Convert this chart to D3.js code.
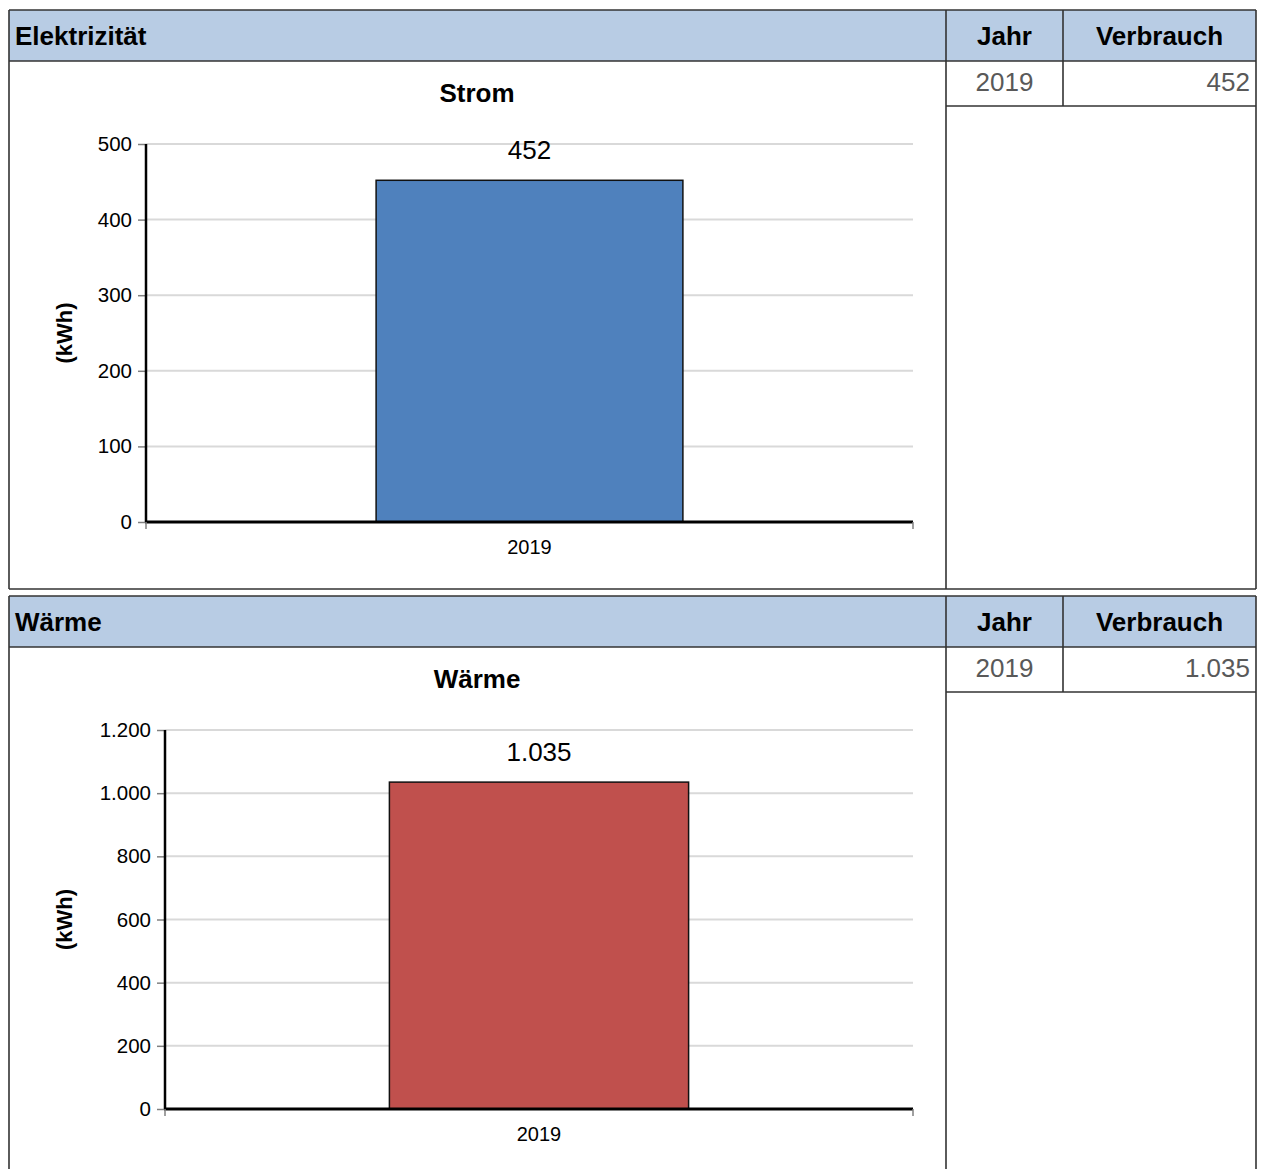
<!DOCTYPE html>
<html>
<head>
<meta charset="utf-8">
<script src="https://cdn.jsdelivr.net/npm/d3@7"></script>
<style>
  html, body { margin: 0; padding: 0; background: #fff; }
  svg { display: block; font-family: "Liberation Sans", Arial, sans-serif; }
</style>
</head>
<body>
<svg id="chart" width="1263" height="1169"></svg>
<script>
// Consumption per year, one small array per energy carrier
const years = ["2019"];
const stromValues = [452];
const waermeValues = [1035];

// Y-axis ticks of each chart
const stromTicks = [0, 100, 200, 300, 400, 500];
const waermeTicks = [0, 200, 400, 600, 800, 1000, 1200];

// Section headings, chart titles and table headings
const sectionTitles = ["Elektrizität", "Wärme"];
const chartTitles = ["Strom", "Wärme"];
const tableHeads = ["Jahr", "Verbrauch"];
const unitLabel = "(kWh)";

const de = d3.formatLocale({ decimal: ",", thousands: ".", grouping: [3], currency: ["", " €"] });
const fmt = de.format(",d");

const svg = d3.select("#chart");

const panels = [
  { top: 10, height: 579, section: sectionTitles[0], title: chartTitles[0], values: stromValues,
    ticks: stromTicks, color: "#4f81bd", plotLeft: 146, plotBottom: 512 },
  { top: 596, height: 600, section: sectionTitles[1], title: chartTitles[1], values: waermeValues,
    ticks: waermeTicks, color: "#c0504d", plotLeft: 165, plotBottom: 513 }
];

const X0 = 9, XSPLIT = 946, XCOL = 1063, X1 = 1256;
const HEAD_H = 51, ROW_H = 45;
const border = "#333";

panels.forEach(p => {
  const g = svg.append("g").attr("transform", `translate(0,${p.top})`);

  // header band
  g.append("rect").attr("x", X0).attr("y", 0).attr("width", X1 - X0).attr("height", HEAD_H)
    .attr("fill", "#b8cce4");

  // frame lines
  const lines = [
    [X0, 0, X1, 0],
    [X0, HEAD_H, X1, HEAD_H],
    [X0, 0, X0, p.height],
    [XSPLIT, 0, XSPLIT, p.height],
    [X1, 0, X1, p.height],
    [XCOL, 0, XCOL, HEAD_H + ROW_H],
    [XSPLIT, HEAD_H + ROW_H, X1, HEAD_H + ROW_H]
  ];
  if (p.top + p.height < 1169) lines.push([X0, p.height, X1, p.height]);
  g.selectAll("line.frame").data(lines).join("line").attr("class", "frame")
    .attr("x1", d => d[0]).attr("y1", d => d[1]).attr("x2", d => d[2]).attr("y2", d => d[3])
    .attr("stroke", border).attr("stroke-width", 1.6);

  // header texts
  g.append("text").attr("x", 15).attr("y", 35).text(p.section)
    .attr("font-size", 26).attr("font-weight", "bold").attr("fill", "#000");
  g.append("text").attr("x", (XSPLIT + XCOL) / 2).attr("y", 35).attr("text-anchor", "middle")
    .text(tableHeads[0]).attr("font-size", 26).attr("font-weight", "bold");
  g.append("text").attr("x", (XCOL + X1) / 2).attr("y", 35).attr("text-anchor", "middle")
    .text(tableHeads[1]).attr("font-size", 26).attr("font-weight", "bold");

  // table rows
  years.forEach((yr, i) => {
    const yb = HEAD_H + ROW_H * i + 30;
    g.append("text").attr("x", (XSPLIT + XCOL) / 2).attr("y", yb).attr("text-anchor", "middle")
      .text(yr).attr("font-size", 26).attr("fill", "#595959");
    g.append("text").attr("x", X1 - 6).attr("y", yb).attr("text-anchor", "end")
      .text(fmt(p.values[i])).attr("font-size", 26).attr("fill", "#595959");
  });

  // chart
  const plotTop = 134, plotBottom = p.plotBottom, plotRight = 913;
  const x = d3.scaleBand().domain(years).range([p.plotLeft, plotRight])
    .paddingInner(0).paddingOuter(0.75);
  const y = d3.scaleLinear().domain([0, d3.max(p.ticks)]).range([plotBottom, plotTop]);

  g.append("text").attr("x", 477).attr("y", 92).attr("text-anchor", "middle")
    .text(p.title).attr("font-size", 26).attr("font-weight", "bold");

  // gridlines
  g.selectAll("line.grid").data(p.ticks.filter(t => t > 0)).join("line").attr("class", "grid")
    .attr("x1", p.plotLeft).attr("x2", plotRight).attr("y1", d => y(d)).attr("y2", d => y(d))
    .attr("stroke", "#d9d9d9").attr("stroke-width", 2);

  // y axis
  const yAxis = d3.axisLeft(y).tickValues(p.ticks).tickFormat(fmt).tickSize(8).tickPadding(6);
  const ya = g.append("g").attr("transform", `translate(${p.plotLeft},0)`).call(yAxis);
  ya.select(".domain").remove();
  ya.selectAll(".tick line").attr("stroke", "#808080").attr("stroke-width", 1.5);
  ya.selectAll(".tick text").attr("font-size", 20.5).attr("fill", "#000")
    .attr("font-family", "Liberation Sans, Arial, sans-serif");

  // unit label
  g.append("text").attr("transform", `translate(72,${(plotTop + plotBottom) / 2}) rotate(-90)`)
    .attr("text-anchor", "middle").text(unitLabel)
    .attr("font-size", 22).attr("font-weight", "bold");

  // bars
  g.selectAll("rect.bar").data(p.values).join("rect").attr("class", "bar")
    .attr("x", (d, i) => x(years[i])).attr("width", x.bandwidth())
    .attr("y", d => y(d)).attr("height", d => y(0) - y(d))
    .attr("fill", p.color).attr("stroke", "#111").attr("stroke-width", 1.5);

  // value labels
  g.selectAll("text.val").data(p.values).join("text").attr("class", "val")
    .attr("x", (d, i) => x(years[i]) + x.bandwidth() / 2).attr("y", d => y(d) - 21)
    .attr("text-anchor", "middle").text(d => fmt(d)).attr("font-size", 26);

  // axis lines
  g.append("line").attr("x1", p.plotLeft).attr("x2", p.plotLeft).attr("y1", plotTop).attr("y2", plotBottom)
    .attr("stroke", "#000").attr("stroke-width", 2.5);
  g.append("line").attr("x1", p.plotLeft - 1).attr("x2", plotRight).attr("y1", plotBottom).attr("y2", plotBottom)
    .attr("stroke", "#000").attr("stroke-width", 3);
  g.selectAll("line.xb").data([p.plotLeft, plotRight]).join("line").attr("class", "xb")
    .attr("x1", d => d).attr("x2", d => d).attr("y1", plotBottom).attr("y2", plotBottom + 7)
    .attr("stroke", "#808080").attr("stroke-width", 1.5);

  // category labels
  g.selectAll("text.cat").data(years).join("text").attr("class", "cat")
    .attr("x", d => x(d) + x.bandwidth() / 2).attr("y", plotBottom + 32)
    .attr("text-anchor", "middle").text(d => d).attr("font-size", 20);
});
</script>
</body>
</html>
